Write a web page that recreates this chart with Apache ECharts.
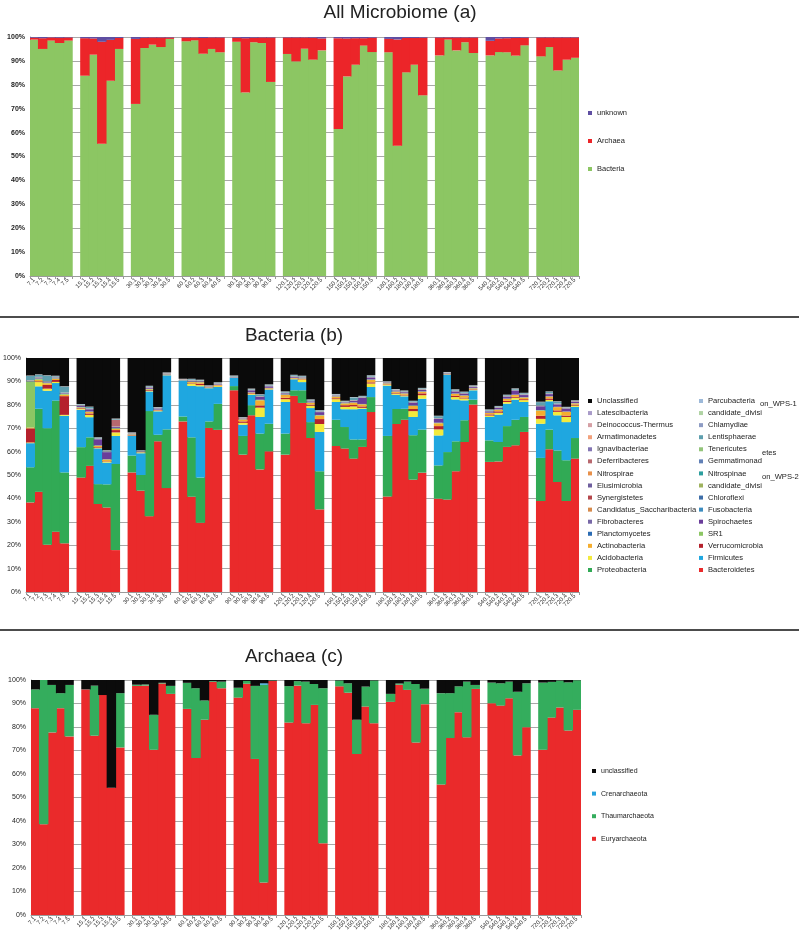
<!DOCTYPE html>
<html>
<head>
<meta charset="utf-8">
<script src="https://cdn.jsdelivr.net/npm/echarts/dist/echarts.min.js"></script>
<style>
html,body{margin:0;padding:0;background:#fff;}
#chart{width:799px;height:934px;}
</style>
</head>
<body>
<div id="chart"></div>
<script>
// ---------- categories ----------
const groups = ['7','15','30','60','90','120','150','180','360','540','720'];
const reps = ['1','2','3','4','5'];

// ---------- Panel (a): All Microbiome ----------
const microBacteria = [
98.9,95.0,98.5,97.5,98.5,
83.8,92.6,55.3,81.7,95.0,
72.0,95.4,96.8,95.8,99.2,
98.2,98.6,93.0,95.0,93.6,
98.0,76.8,97.8,97.5,81.2,
92.9,89.8,95.1,90.5,94.4,
61.5,83.5,88.4,96.4,93.7,
93.6,54.5,85.2,88.4,75.6,
92.3,98.9,94.4,97.8,93.3,
92.3,93.7,93.6,92.2,96.5,
91.9,95.8,86.0,90.5,91.3];
const microArchaea = [
0.8,4.5,1.3,2.2,1.3,
15.7,6.8,42.7,17.1,4.6,
27.2,4.3,3.0,4.0,0.6,
1.6,1.2,6.6,4.8,6.2,
1.7,22.7,1.9,2.3,18.6,
6.9,10.0,4.7,9.2,5.0,
38.0,15.9,11.1,3.1,6.0,
5.6,44.5,14.4,11.2,24.1,
7.5,0.9,5.4,2.0,6.5,
6.1,5.7,5.9,7.4,3.2,
7.9,4.0,13.8,9.3,8.5];
const microUnknown = [
0.3,0.5,0.2,0.3,0.2,
0.5,0.6,2.0,1.2,0.4,
0.8,0.3,0.2,0.2,0.2,
0.2,0.2,0.4,0.2,0.2,
0.3,0.5,0.3,0.2,0.2,
0.2,0.2,0.2,0.3,0.6,
0.5,0.6,0.5,0.5,0.3,
0.8,1.0,0.4,0.4,0.3,
0.2,0.2,0.2,0.2,0.2,
1.6,0.6,0.5,0.4,0.3,
0.2,0.2,0.2,0.2,0.2];

// ---------- Panel (b): Bacteria ----------
const bacteroidetes = [
38.3,42.8,20.2,25.8,20.8,
48.9,53.9,37.6,36.1,17.9,
51.1,43.3,32.4,64.4,44.4,
72.9,40.7,29.6,70.1,69.3,
86.2,58.7,75.5,52.4,60.1,
58.7,83.8,80.8,65.8,35.3,
62.4,61.3,57.0,62.0,76.9,
40.8,71.8,73.6,48.0,51.0,
39.9,39.5,51.6,64.1,80.1,
55.6,55.8,62.0,62.7,68.4,
38.9,61.0,47.0,38.9,57.0];
const proteobacteria = [
15.0,35.5,49.8,56.0,30.3,
13.0,12.2,8.5,9.9,36.8,
7.2,6.7,44.9,2.8,25.1,
2.1,25.4,19.3,2.8,11.1,
1.8,8.0,4.3,15.3,11.8,
9.0,2.4,5.4,6.8,16.3,
11.2,9.2,8.2,3.2,6.4,
25.9,6.4,4.7,19.0,18.4,
14.2,20.3,12.8,9.3,2.1,
9.2,8.3,8.9,10.9,6.4,
18.4,8.4,13.5,17.4,8.8];
const firmicutes = [
10.3,9.6,16.0,7.5,24.2,
16.0,8.6,15.3,9.3,12.0,
8.4,9.3,8.4,10.0,23.1,
15.4,22.0,39.0,14.2,7.2,
3.5,4.8,4.5,7.1,14.6,
13.5,4.7,3.5,6.0,16.8,
7.6,7.6,12.9,13.1,4.3,
21.5,6.1,5.3,7.8,13.2,
12.8,33.1,17.9,8.5,4.0,
10.0,11.7,9.6,8.6,6.4,
14.6,12.1,15.0,16.3,13.3];
const acidobacteria = [
0.3,1.8,0.9,0.5,0.4,
0.3,1.0,0.2,0.3,1.5,
0.2,0.1,0.3,0.2,0.1,
0.0,1.0,0.5,0.1,0.4,
0.0,0.8,0.3,4.0,0.2,
1.2,0.1,0.9,1.0,3.4,
1.2,1.0,1.2,0.4,1.5,
0.3,0.5,0.4,2.5,1.5,
2.6,0.1,1.0,0.8,0.3,
0.6,0.8,0.7,0.8,0.8,
2.1,0.6,1.5,2.2,0.6];
const verrucomicrobia = [
6.0,0.3,1.6,0.8,8.0,
0.3,0.6,0.3,0.2,1.0,
0.2,0.1,0.3,0.2,0.1,
0.0,0.2,0.6,0.1,0.2,
0.0,0.6,0.3,0.9,0.2,
0.6,0.1,0.2,0.5,2.1,
0.4,0.7,0.6,0.6,0.5,
0.2,0.3,0.3,0.9,0.8,
1.4,0.1,0.5,0.4,0.2,
0.5,0.6,0.5,0.4,0.4,
1.3,0.6,0.6,0.6,0.4];
const actinobacteria = [
0.4,0.7,0.7,0.5,0.6,
0.3,0.6,0.5,0.8,0.5,
0.2,0.2,0.3,0.2,0.1,
0.1,0.4,0.6,0.2,0.3,
0.1,0.8,0.3,2.2,0.2,
1.2,0.3,0.4,0.8,1.5,
0.7,0.8,1.0,0.9,1.0,
0.4,0.5,0.5,1.3,0.6,
1.2,0.1,0.9,0.8,0.3,
0.6,0.7,0.8,0.8,0.7,
2.2,0.8,1.4,1.6,0.5];
const sr1 = [
19.7,0.5,0.2,0.2,0.3,
0.2,0.2,0.2,0.1,0.3,
0.1,0.1,0.2,0.1,0.1,
0.0,0.2,0.1,0.0,0.1,
0.0,0.1,0.1,0.2,0.1,
0.2,0.1,0.1,0.1,0.2,
0.1,0.1,0.1,0.1,0.2,
0.1,0.1,0.1,0.2,0.2,
0.2,0.0,0.1,0.1,0.1,
0.1,0.1,0.1,0.1,0.1,
0.2,0.1,0.1,0.1,0.1];
const spirochaetes = [
0.1,0.3,0.2,0.2,0.2,
0.4,0.9,2.6,3.0,0.4,
0.1,0.1,0.4,0.4,0.1,
0.0,0.2,0.2,0.1,0.2,
0.1,0.2,0.8,1.2,0.6,
0.4,0.3,0.2,0.4,1.2,
0.2,0.2,0.6,2.6,0.8,
0.2,0.3,0.4,1.1,0.6,
1.6,0.1,0.8,0.7,0.4,
0.5,0.6,0.8,1.7,0.9,
1.6,0.9,1.0,1.2,0.5];
const lentisphaerae = [
1.8,0.9,2.4,0.3,2.5,
0.3,0.6,0.3,0.2,0.3,
0.1,0.1,0.3,0.1,0.1,
0.0,0.4,0.2,0.1,0.2,
0.2,0.1,0.2,0.6,0.3,
0.3,0.4,0.3,0.3,0.3,
0.2,0.2,1.1,0.3,0.4,
0.1,0.1,0.2,0.3,0.3,
0.8,0.1,0.4,0.3,0.2,
0.3,0.3,0.3,0.4,0.4,
1.4,0.6,0.8,0.2,0.1];
const deferribacteres = [
0.03,0.03,0.03,0.03,0.03,
0.03,0.03,0.03,0.03,2.83,
0.03,0.03,0.03,0.03,0.03,
0.03,0.03,0.03,0.03,0.03,
0.03,0.03,0.03,0.03,0.03,
0.03,0.03,0.03,0.03,0.03,
0.03,0.03,0.03,0.03,0.03,
0.03,0.03,0.03,0.03,0.03,
0.03,0.03,0.03,0.03,0.03,
0.03,0.03,0.03,0.03,0.03,
0.03,0.03,0.03,0.03,0.03];
const planctomycetes = [
0.06,0.06,0.06,0.06,0.06, 0.06,0.06,0.06,0.06,0.06, 0.06,0.06,0.06,0.06,0.06,
0.06,0.06,0.06,0.06,0.06, 0.06,0.06,0.06,0.06,0.06, 0.06,0.06,0.06,0.06,0.06,
0.06,0.06,0.06,0.06,0.06, 0.06,0.06,0.06,0.06,0.06, 0.06,0.06,0.06,0.06,0.06,
0.06,0.06,0.06,0.06,0.06, 0.06,0.06,0.06,0.06,0.06];
const fibrobacteres = [
0.05,0.05,0.05,0.05,0.05, 0.05,0.05,0.05,0.05,0.05, 0.05,0.05,0.05,0.05,0.05,
0.05,0.05,0.05,0.05,0.05, 0.05,0.05,0.05,0.05,0.05, 0.05,0.05,0.05,0.05,0.05,
0.05,0.05,0.05,0.05,0.05, 0.05,0.05,0.05,0.05,0.05, 0.05,0.05,0.05,0.05,0.05,
0.05,0.05,0.05,0.05,0.05, 0.05,0.05,0.05,0.05,0.05];
const fusobacteria = [
0.03,0.03,0.03,0.03,0.03, 0.03,0.03,0.03,0.03,0.03, 0.03,0.03,0.03,0.03,0.03,
0.03,0.03,0.03,0.03,0.03, 0.03,0.03,0.03,0.03,0.03, 0.03,0.03,0.03,0.03,0.03,
0.03,0.03,0.03,0.03,0.03, 0.03,0.03,0.03,0.03,0.03, 0.03,0.03,0.03,0.03,0.03,
0.03,0.03,0.03,0.03,0.03, 0.03,0.03,0.03,0.03,0.03];
const saccharibacteria = [
0.04,0.04,0.04,0.04,0.04, 0.04,0.04,0.04,0.04,0.04, 0.04,0.04,0.04,0.04,0.04,
0.04,0.04,0.04,0.04,0.04, 0.04,0.04,0.04,0.04,0.04, 0.04,0.04,0.04,0.04,0.04,
0.04,0.04,0.04,0.04,0.04, 0.04,0.04,0.04,0.04,0.04, 0.04,0.04,0.04,0.04,0.04,
0.04,0.04,0.04,0.04,0.04, 0.04,0.04,0.04,0.04,0.04];
const chloroflexi = [
0.04,0.04,0.04,0.04,0.04, 0.04,0.04,0.04,0.04,0.04, 0.04,0.04,0.04,0.04,0.04,
0.04,0.04,0.04,0.04,0.04, 0.04,0.04,0.04,0.04,0.04, 0.04,0.04,0.04,0.04,0.04,
0.04,0.04,0.04,0.04,0.04, 0.04,0.04,0.04,0.04,0.04, 0.04,0.04,0.04,0.04,0.04,
0.04,0.04,0.04,0.04,0.04, 0.04,0.04,0.04,0.04,0.04];
const synergistetes = [
0.03,0.03,0.03,0.03,0.03, 0.03,0.03,0.03,0.03,0.03, 0.03,0.03,0.03,0.03,0.03,
0.03,0.03,0.03,0.03,0.03, 0.03,0.03,0.03,0.03,0.03, 0.03,0.03,0.03,0.03,0.03,
0.03,0.03,0.03,0.03,0.03, 0.03,0.03,0.03,0.03,0.03, 0.03,0.03,0.03,0.03,0.03,
0.03,0.03,0.03,0.03,0.03, 0.03,0.03,0.03,0.03,0.03];
const wps2 = [
0.02,0.02,0.02,0.02,0.02, 0.02,0.02,0.02,0.02,0.02, 0.02,0.02,0.02,0.02,0.02,
0.02,0.02,0.02,0.02,0.02, 0.02,0.02,0.02,0.02,0.02, 0.02,0.02,0.02,0.02,0.02,
0.02,0.02,0.02,0.02,0.02, 0.02,0.02,0.02,0.02,0.02, 0.02,0.02,0.02,0.02,0.02,
0.02,0.02,0.02,0.02,0.02, 0.02,0.02,0.02,0.02,0.02];
const elusimicrobia = [
0.03,0.03,0.03,0.03,0.03, 0.03,0.03,0.03,0.03,0.03, 0.03,0.03,0.03,0.03,0.03,
0.03,0.03,0.03,0.03,0.03, 0.03,0.03,0.03,0.03,0.03, 0.03,0.03,0.03,0.03,0.03,
0.03,0.03,0.03,0.03,0.03, 0.03,0.03,0.03,0.03,0.03, 0.03,0.03,0.03,0.03,0.03,
0.03,0.03,0.03,0.03,0.03, 0.03,0.03,0.03,0.03,0.03];
const nitrospinae = [
0.02,0.02,0.02,0.02,0.02, 0.02,0.02,0.02,0.02,0.02, 0.02,0.02,0.02,0.02,0.02,
0.02,0.02,0.02,0.02,0.02, 0.02,0.02,0.02,0.02,0.02, 0.02,0.02,0.02,0.02,0.02,
0.02,0.02,0.02,0.02,0.02, 0.02,0.02,0.02,0.02,0.02, 0.02,0.02,0.02,0.02,0.02,
0.02,0.02,0.02,0.02,0.02, 0.02,0.02,0.02,0.02,0.02];
const nitrospirae = [
0.03,0.03,0.03,0.03,0.03, 0.03,0.03,0.03,0.03,0.03, 0.03,0.03,0.03,0.03,0.03,
0.03,0.03,0.03,0.03,0.03, 0.03,0.03,0.03,0.03,0.03, 0.03,0.03,0.03,0.03,0.03,
0.03,0.03,0.03,0.03,0.03, 0.03,0.03,0.03,0.03,0.03, 0.03,0.03,0.03,0.03,0.03,
0.03,0.03,0.03,0.03,0.03, 0.03,0.03,0.03,0.03,0.03];
const gemmatimonadetes = [
0.03,0.03,0.03,0.03,0.03, 0.03,0.03,0.03,0.03,0.03, 0.03,0.03,0.03,0.03,0.03,
0.03,0.03,0.03,0.03,0.03, 0.03,0.03,0.03,0.03,0.03, 0.03,0.03,0.03,0.03,0.03,
0.03,0.03,0.03,0.03,0.03, 0.03,0.03,0.03,0.03,0.03, 0.03,0.03,0.03,0.03,0.03,
0.03,0.03,0.03,0.03,0.03, 0.03,0.03,0.03,0.03,0.03];
const tenericutes = [
0.03,0.03,0.03,0.03,0.03, 0.03,0.03,0.03,0.03,0.03, 0.03,0.03,0.03,0.03,0.03,
0.03,0.03,0.03,0.03,0.03, 0.03,0.03,0.03,0.03,0.03, 0.03,0.03,0.03,0.03,0.03,
0.03,0.03,0.03,0.03,0.03, 0.03,0.03,0.03,0.03,0.03, 0.03,0.03,0.03,0.03,0.03,
0.03,0.03,0.03,0.03,0.03, 0.03,0.03,0.03,0.03,0.03];
const ignavibacteriae = [
0.02,0.02,0.02,0.02,0.02, 0.02,0.02,0.02,0.02,0.02, 0.02,0.02,0.02,0.02,0.02,
0.02,0.02,0.02,0.02,0.02, 0.02,0.02,0.02,0.02,0.02, 0.02,0.02,0.02,0.02,0.02,
0.02,0.02,0.02,0.02,0.02, 0.02,0.02,0.02,0.02,0.02, 0.02,0.02,0.02,0.02,0.02,
0.02,0.02,0.02,0.02,0.02, 0.02,0.02,0.02,0.02,0.02];
const armatimonadetes = [
0.03,0.03,0.03,0.03,0.03, 0.03,0.03,0.03,0.03,0.03, 0.03,0.03,0.03,0.03,0.03,
0.03,0.03,0.03,0.03,0.03, 0.03,0.03,0.03,0.03,0.03, 0.03,0.03,0.03,0.03,0.03,
0.03,0.03,0.03,0.03,0.03, 0.03,0.03,0.03,0.03,0.03, 0.03,0.03,0.03,0.03,0.03,
0.03,0.03,0.03,0.03,0.03, 0.03,0.03,0.03,0.03,0.03];
const chlamydiae = [
0.04,0.04,0.04,0.04,0.04, 0.04,0.04,0.04,0.04,0.04, 0.04,0.04,0.04,0.04,0.04,
0.04,0.04,0.04,0.04,0.04, 0.04,0.04,0.04,0.04,0.04, 0.04,0.04,0.04,0.04,0.04,
0.04,0.04,0.04,0.04,0.04, 0.04,0.04,0.04,0.04,0.04, 0.04,0.04,0.04,0.04,0.04,
0.04,0.04,0.04,0.04,0.04, 0.04,0.04,0.04,0.04,0.04];
const deinococcus = [
0.02,0.02,0.02,0.02,0.02, 0.02,0.02,0.02,0.02,0.02, 0.02,0.02,0.02,0.02,0.02,
0.02,0.02,0.02,0.02,0.02, 0.02,0.02,0.02,0.02,0.02, 0.02,0.02,0.02,0.02,0.02,
0.02,0.02,0.02,0.02,0.02, 0.02,0.02,0.02,0.02,0.02, 0.02,0.02,0.02,0.02,0.02,
0.02,0.02,0.02,0.02,0.02, 0.02,0.02,0.02,0.02,0.02];
const wps1 = [
0.02,0.02,0.02,0.02,0.02, 0.02,0.02,0.02,0.02,0.02, 0.02,0.02,0.02,0.02,0.02,
0.02,0.02,0.02,0.02,0.02, 0.02,0.02,0.02,0.02,0.02, 0.02,0.02,0.02,0.02,0.02,
0.02,0.02,0.02,0.02,0.02, 0.02,0.02,0.02,0.02,0.02, 0.02,0.02,0.02,0.02,0.02,
0.02,0.02,0.02,0.02,0.02, 0.02,0.02,0.02,0.02,0.02];
const latescibacteria = [
0.02,0.02,0.02,0.02,0.02, 0.02,0.02,0.02,0.02,0.02, 0.02,0.02,0.02,0.02,0.02,
0.02,0.02,0.02,0.02,0.02, 0.02,0.02,0.02,0.02,0.02, 0.02,0.02,0.02,0.02,0.02,
0.02,0.02,0.02,0.02,0.02, 0.02,0.02,0.02,0.02,0.02, 0.02,0.02,0.02,0.02,0.02,
0.02,0.02,0.02,0.02,0.02, 0.02,0.02,0.02,0.02,0.02];
const parcubacteria = [
0.04,0.04,0.04,0.04,0.04, 0.04,0.04,0.04,0.04,0.04, 0.04,0.04,0.04,0.04,0.04,
0.04,0.04,0.04,0.04,0.04, 0.04,0.04,0.04,0.04,0.04, 0.04,0.04,0.04,0.04,0.04,
0.04,0.04,0.04,0.04,0.04, 0.04,0.04,0.04,0.04,0.04, 0.04,0.04,0.04,0.04,0.04,
0.04,0.04,0.04,0.04,0.04, 0.04,0.04,0.04,0.04,0.04];
const bactUnclassified = [
7.5,7.0,7.4,7.6,12.1,
19.7,20.8,33.9,39.5,25.9,
31.8,39.4,11.9,21.0,6.2,
8.9,8.9,9.3,11.7,10.4,
7.5,25.3,13.1,15.5,11.3,
14.3,7.2,7.6,17.7,22.3,
15.4,18.3,16.7,16.2,7.4,
9.9,13.3,13.9,18.3,12.8,
24.7,6.0,13.4,14.4,11.7,
22.0,20.5,15.7,13.0,14.9,
18.7,14.3,18.5,20.9,18.1];

// ---------- Panel (c): Archaea ----------
const euryarchaeota = [
88.0,38.6,77.7,88.0,76.0,
96.0,76.3,93.6,54.1,71.3,
97.5,97.6,70.3,98.5,94.1,
87.7,66.8,83.1,99.2,96.5,
92.5,98.4,66.4,13.8,99.6,
81.9,97.6,81.6,89.4,30.5,
97.3,94.6,68.5,88.7,81.6,
90.7,98.0,95.8,73.4,89.7,
55.5,75.3,86.3,75.6,96.2,
90.1,89.1,92.2,67.9,79.9,
70.3,84.0,88.3,78.5,87.3];
const thaumarchaeota = [
8.0,61.4,20.2,6.4,21.9,
0.0,21.3,0.0,0.0,23.1,
0.5,0.5,14.9,0.3,3.4,
11.1,29.7,8.2,0.3,2.8,
4.2,1.2,31.1,84.2,0.2,
15.5,1.9,17.7,8.9,66.0,
2.5,4.0,14.6,8.5,18.2,
3.4,0.5,3.5,24.9,6.6,
38.9,19.1,11.0,23.7,1.7,
8.8,9.5,7.1,27.1,18.7,
28.6,15.2,11.5,20.5,12.6];
const crenarchaeota = [
0,0,0,0,0,
0,0,0,0,0,
0,0,0,0,0,
0,0,0,0,0,
0,0,0,0.6,0,
0,0,0,0,0,
0,0,0,0,0,
0,0,0,0,0,
0,0,0,0,0,
0,0,0,0,0,
0,0,0,0,0];
const archUnclassified = [
4.0,0.0,2.1,5.6,2.1,
4.0,2.4,6.4,45.9,5.6,
2.0,1.9,14.8,1.2,2.5,
1.2,3.5,8.7,0.5,0.7,
3.3,0.4,2.5,1.4,0.2,
2.6,0.5,0.7,1.7,3.5,
0.2,1.4,16.9,2.8,0.2,
5.9,1.5,0.7,1.7,3.7,
5.6,5.6,2.7,0.7,2.1,
1.1,1.4,0.7,5.0,1.4,
1.1,0.8,0.2,1.0,0.1];

// ---------- build slots (bars + gap column between groups) ----------
function toSlots(vals) {
  const out = [];
  groups.forEach((g, gi) => {
    for (let r = 0; r < reps.length; r++) out.push(vals[gi * reps.length + r]);
    if (gi < groups.length - 1) out.push('-');
  });
  return out;
}
const xLabels = [];
groups.forEach((g, gi) => {
  reps.forEach(r => xLabels.push(g + '.' + r));
  if (gi < groups.length - 1) xLabels.push(' '.repeat(gi + 1));
});
const nSlots = xLabels.length;

const FONT = "'Liberation Sans', Arial, sans-serif";

const grids = [
  {left: 30, top: 37, width: 549, height: 239},
  {left: 26, top: 358, width: 553, height: 234},
  {left: 31, top: 680, width: 550, height: 236}
];
// bars slightly wider than their slot so neighbours overlap (no anti-alias seams)
const barWidths = grids.map(g => g.width / nSlots + 1);

const xAxes = grids.map((g, i) => ({
  type: 'category', gridIndex: i, data: xLabels,
  axisLine: {lineStyle: {color: '#9a9a9a', width: 1}},
  axisTick: {show: true, interval: 0, length: 3, lineStyle: {color: '#9a9a9a'}},
  axisLabel: {interval: 0, rotate: 45, fontSize: 6, color: '#333', margin: 3, fontFamily: FONT}
}));
const yAxes = grids.map((g, i) => ({
  type: 'value', gridIndex: i, min: 0, max: 100, interval: 10,
  axisLine: {show: true, lineStyle: {color: '#9a9a9a'}},
  axisTick: {show: false},
  splitLine: {lineStyle: {color: '#a8a8a8', width: 1}},
  axisLabel: {formatter: '{value}%', fontSize: 7, color: '#222', margin: 5,
              fontWeight: i === 0 ? 'bold' : 'normal', fontFamily: FONT}
}));

function barSeries(name, vals, color, idx, stack) {
  return {
    type: 'bar', name: name, stack: stack, xAxisIndex: idx, yAxisIndex: idx,
    data: toSlots(vals), barWidth: barWidths[idx],
    itemStyle: {color: color}, emphasis: {disabled: true}
  };
}

const seriesA = [
  ['Bacteria', microBacteria, '#8cc663'],
  ['Archaea', microArchaea, '#ec2529'],
  ['unknown', microUnknown, '#5f4ea2']
];
const seriesB = [
  ['Bacteroidetes', bacteroidetes, '#ea2a2b'],
  ['Proteobacteria', proteobacteria, '#31aa55'],
  ['Firmicutes', firmicutes, '#1fa7e0'],
  ['Acidobacteria', acidobacteria, '#f3ea3c'],
  ['Verrucomicrobia', verrucomicrobia, '#b5212c'],
  ['Actinobacteria', actinobacteria, '#f5ad2e'],
  ['SR1', sr1, '#8cc664'],
  ['Planctomycetes', planctomycetes, '#2b6bb3'],
  ['Spirochaetes', spirochaetes, '#6a3d9a'],
  ['Fibrobacteres', fibrobacteres, '#7767a6'],
  ['Fusobacteria', fusobacteria, '#3c8cbf'],
  ['Candidatus_Saccharibacteria', saccharibacteria, '#d68a4c'],
  ['Chloroflexi', chloroflexi, '#3e6ea8'],
  ['Synergistetes', synergistetes, '#b4464b'],
  ['candidate_division_WPS-2', wps2, '#9fb35e'],
  ['Elusimicrobia', elusimicrobia, '#6e5e9e'],
  ['Nitrospinae', nitrospinae, '#2c9e9e'],
  ['Nitrospirae', nitrospirae, '#e8904a'],
  ['Gemmatimonadetes', gemmatimonadetes, '#6180b6'],
  ['Deferribacteres', deferribacteres, '#b8686e'],
  ['Tenericutes', tenericutes, '#93c47a'],
  ['Ignavibacteriae', ignavibacteriae, '#8476b4'],
  ['Lentisphaerae', lentisphaerae, '#5e9fae'],
  ['Armatimonadetes', armatimonadetes, '#f2a17c'],
  ['Chlamydiae', chlamydiae, '#8e9cc4'],
  ['Deinococcus-Thermus', deinococcus, '#d59fa4'],
  ['candidate_division_WPS-1', wps1, '#b0d3a4'],
  ['Latescibacteria', latescibacteria, '#a99bc9'],
  ['Parcubacteria', parcubacteria, '#9db9d9'],
  ['Unclassified', bactUnclassified, '#0a0a0a']
];
const seriesC = [
  ['Euryarchaeota', euryarchaeota, '#ea2a2b'],
  ['Thaumarchaeota', thaumarchaeota, '#34ad5d'],
  ['Crenarchaeota', crenarchaeota, '#27a2dc'],
  ['unclassified', archUnclassified, '#0b0b0b']
];

const series = []
  .concat(seriesA.map(s => barSeries(s[0], s[1], s[2], 0, 'a')))
  .concat(seriesB.map(s => barSeries(s[0], s[1], s[2], 1, 'b')))
  .concat(seriesC.map(s => barSeries(s[0], s[1], s[2], 2, 'c')));

const legendBCol1 = ['Unclassified','Latescibacteria','Deinococcus-Thermus','Armatimonadetes','Ignavibacteriae',
  'Deferribacteres','Nitrospirae','Elusimicrobia','Synergistetes','Candidatus_Saccharibacteria',
  'Fibrobacteres','Planctomycetes','Actinobacteria','Acidobacteria','Proteobacteria'];
const legendBCol2 = ['Parcubacteria','candidate_division_WPS-1','Chlamydiae','Lentisphaerae','Tenericutes',
  'Gemmatimonadetes','Nitrospinae','candidate_division_WPS-2','Chloroflexi','Fusobacteria',
  'Spirochaetes','SR1','Verrucomicrobia','Firmicutes','Bacteroidetes'];
const legendShortNames = {
  'candidate_division_WPS-1': 'candidate_divisi',
  'candidate_division_WPS-2': 'candidate_divisi',
  'Gemmatimonadetes': 'Gemmatimonad'
};

function legendBase(extra) {
  return Object.assign({
    orient: 'vertical', icon: 'rect', itemWidth: 4, itemHeight: 4,
    selectedMode: false, padding: 0,
    textStyle: {fontSize: 7.6, lineHeight: 10, color: '#222', fontFamily: FONT}
  }, extra);
}

const option = {
  animation: false,
  backgroundColor: '#fff',
  grid: grids,
  xAxis: xAxes,
  yAxis: yAxes,
  legend: [
    legendBase({data: ['unknown','Archaea','Bacteria'], left: 588, top: 108, itemGap: 18,
      textStyle: {fontSize: 7.5, lineHeight: 10, color: '#222', fontFamily: FONT}}),
    legendBase({data: legendBCol1, left: 588, top: 396, itemGap: 2.07}),
    legendBase({data: legendBCol2, left: 699, top: 396, itemGap: 2.07,
      formatter: n => legendShortNames[n] || n}),
    legendBase({data: ['unclassified','Crenarchaeota','Thaumarchaeota','Euryarchaeota'],
      left: 592, top: 766, itemGap: 12.6,
      textStyle: {fontSize: 7, lineHeight: 10, color: '#222', fontFamily: FONT}})
  ],
  graphic: [
    {type: 'text', x: 400, y: 13, style: {text: 'All Microbiome (a)', font: '19px ' + FONT,
      fill: '#222', align: 'center', verticalAlign: 'middle', textAlign: 'center', textVerticalAlign: 'middle'}},
    {type: 'text', x: 294, y: 336, style: {text: 'Bacteria (b)', font: '19px ' + FONT,
      fill: '#222', align: 'center', verticalAlign: 'middle', textAlign: 'center', textVerticalAlign: 'middle'}},
    {type: 'text', x: 294, y: 657, style: {text: 'Archaea (c)', font: '19px ' + FONT,
      fill: '#222', align: 'center', verticalAlign: 'middle', textAlign: 'center', textVerticalAlign: 'middle'}},
    {type: 'line', shape: {x1: 0, y1: 317, x2: 799, y2: 317}, style: {stroke: '#111', lineWidth: 1.5}},
    {type: 'line', shape: {x1: 0, y1: 630, x2: 799, y2: 630}, style: {stroke: '#111', lineWidth: 1.5}},
    {type: 'text', x: 760, y: 404, style: {text: 'on_WPS-1', font: '7.6px ' + FONT, fill: '#222',
      verticalAlign: 'middle', textVerticalAlign: 'middle'}},
    {type: 'text', x: 762, y: 453, style: {text: 'etes', font: '7.6px ' + FONT, fill: '#222',
      verticalAlign: 'middle', textVerticalAlign: 'middle'}},
    {type: 'text', x: 762, y: 477, style: {text: 'on_WPS-2', font: '7.6px ' + FONT, fill: '#222',
      verticalAlign: 'middle', textVerticalAlign: 'middle'}}
  ],
  series: series
};

const chart = echarts.init(document.getElementById('chart'), null, {renderer: 'canvas'});
chart.setOption(option);
</script>
</body>
</html>
